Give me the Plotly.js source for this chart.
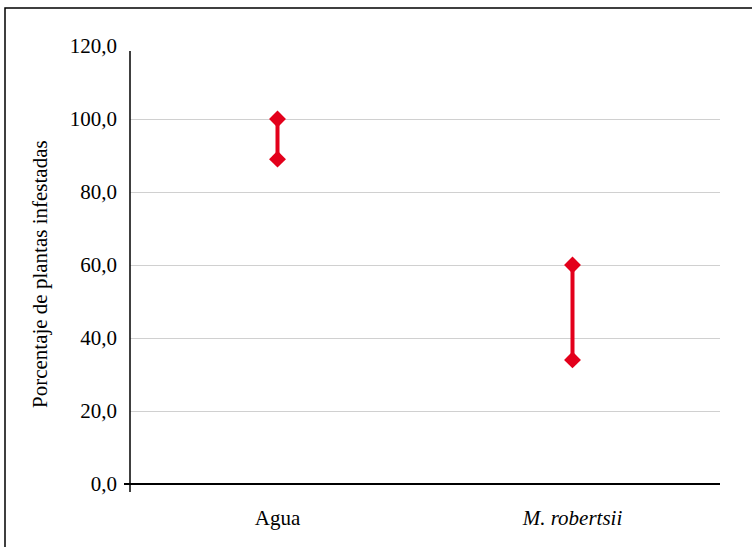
<!DOCTYPE html>
<html>
<head>
<meta charset="utf-8">
<script src="https://cdn.plot.ly/plotly-3.0.1.min.js"></script>
<style>html,body{margin:0;padding:0;background:#fff;}#chart{width:752px;height:547px;}</style>
</head>
<body>
<div id="chart"></div>
<script>
const categories = ["Agua", "M. robertsii"];
const categoryLabels = ["Agua", "<i>M. robertsii</i>"];
const highValues = [100.0, 60.0];
const lowValues = [89.0, 34.0];
const yTickValues = [0, 20, 40, 60, 80, 100, 120];
const yTitle = "Porcentaje de plantas infestadas";

const red = "#E3001B";
const traces = categories.map((c, i) => ({
  type: "scatter",
  mode: "lines+markers",
  x: [c, c],
  y: [lowValues[i], highValues[i]],
  line: {color: red, width: 4},
  marker: {symbol: "diamond", size: 13, color: red},
  hoverinfo: "x+y",
  showlegend: false
}));

const font = {family: "Liberation Serif", color: "#000", size: 21};

const layout = {
  width: 752, height: 547,
  margin: {l: 130, r: 32, t: 46, b: 63},
  paper_bgcolor: "#fff", plot_bgcolor: "#fff",
  separators: ",.",
  font: font,
  showlegend: false,
  xaxis: {
    type: "category",
    categoryarray: categories,
    tickvals: categories,
    ticktext: categoryLabels,
    range: [-0.5, 1.5],
    showgrid: false, zeroline: false, showline: false,
    ticks: "", ticklen: 0,
    ticklabelstandoff: 19,
    tickfont: font
  },
  yaxis: {
    range: [0, 120],
    tickvals: yTickValues,
    tickformat: ".1f",
    showgrid: true, gridcolor: "#d0d0d0", gridwidth: 1,
    zeroline: false, showline: false,
    ticks: "", ticklabelstandoff: 12,
    tickfont: font
  },
  annotations: [
    {text: yTitle, xref: "paper", yref: "paper", x: -90/590, y: (484 - 274) / 438,
     xanchor: "center", yanchor: "middle", textangle: -90, showarrow: false, font: font}
  ],
  shapes: [
    {type: "rect", xref: "paper", yref: "paper", x0: -125/590, x1: 1 + 40/590, y0: -80/438, y1: 1 + 38/438, line: {color: "#000", width: 1.5}, layer: "below"},
    {type: "line", xref: "paper", yref: "paper", x0: 0, x1: 0, y0: -8/438, y1: 1 - 5/438, line: {color: "#000", width: 1.5}},
    {type: "line", xref: "paper", yref: "paper", x0: -6/590, x1: 1, y0: 0, y1: 0, line: {color: "#000", width: 2}}
  ]
};

Plotly.newPlot("chart", traces, layout, {displayModeBar: false, staticPlot: true});
</script>
</body>
</html>
